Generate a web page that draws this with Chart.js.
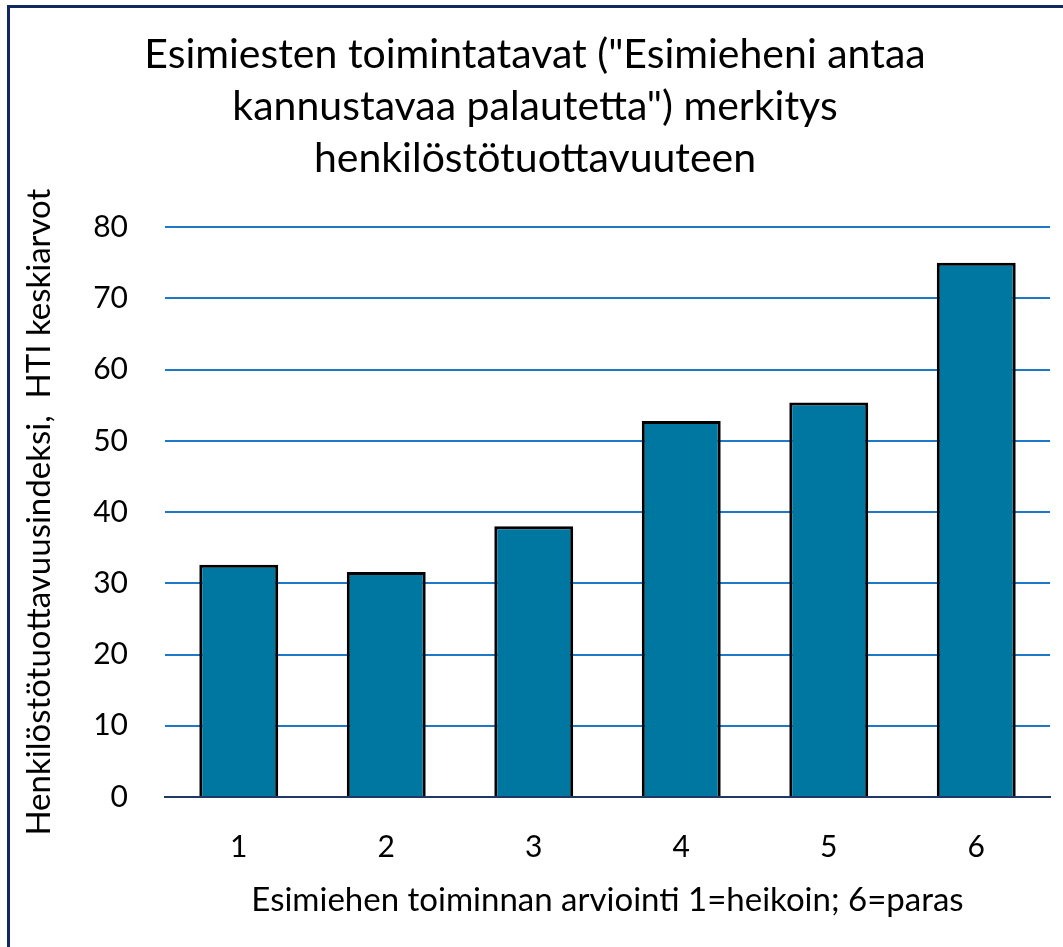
<!DOCTYPE html>
<html>
<head>
<meta charset="utf-8">
<script src="https://cdn.jsdelivr.net/npm/chart.js@4/dist/chart.umd.min.js"></script>
<style>
    html, body { margin: 0; padding: 0; background: #fff; }
    #wrap { position: relative; width: 1063px; height: 947px; }
    #frame {
        position: absolute; left: 7px; top: 5px; right: 0; bottom: 0;
        border-left: 3px solid #10295e; border-top: 3px solid #10295e;
        pointer-events: none;
    }
    canvas { position: absolute; left: 0; top: 0; }
</style>
</head>
<body>
<div id="wrap">
    <canvas id="chart" width="1063" height="947"></canvas>
    <div id="frame"></div>
</div>
<script>
// Chart data
const categories = ['1', '2', '3', '4', '5', '6'];
const htiValues = [32.6, 31.6, 38.0, 52.8, 55.4, 75.0];
const yTicks = [0, 10, 20, 30, 40, 50, 60, 70, 80];

const titleLines = [
    'Esimiesten toimintatavat ("Esimieheni antaa',
    'kannustavaa palautetta") merkitys',
    'henkilöstötuottavuuteen'
];

const fontFamily = 'Lato, "Open Sans", sans-serif';

new Chart(document.getElementById('chart'), {
    type: 'bar',
    data: {
        labels: categories,
        datasets: [{
            data: htiValues,
            backgroundColor: '#0077a0',
            borderColor: '#000000',
            borderWidth: 3,
            borderSkipped: 'bottom',
            barPercentage: 0.535,
            categoryPercentage: 1.0
        }]
    },
    options: {
        responsive: false,
        animation: false,
        layout: {
            padding: { left: 20, right: 13, top: 0, bottom: 0 }
        },
        plugins: {
            legend: { display: false },
            tooltip: { enabled: false },
            title: {
                display: true,
                text: titleLines,
                color: '#000',
                font: { family: fontFamily, size: 41, weight: 'normal', lineHeight: 1.27 },
                padding: { top: 29, bottom: 42 }
            }
        },
        scales: {
            x: {
                grid: { display: false, drawTicks: false },
                border: { display: true, color: '#1f3864', width: 2 },
                ticks: {
                    color: '#000',
                    padding: 32,
                    font: { family: fontFamily, size: 30 }
                },
                title: {
                    display: true,
                    text: 'Esimiehen toiminnan arviointi 1=heikoin; 6=paras',
                    color: '#000',
                    font: { family: fontFamily, size: 33 },
                    padding: { top: 10, bottom: 27 }
                },
                afterFit: function(scale) {
                    scale.height = 150;
                }
            },
            y: {
                min: 0,
                max: 80,
                grid: {
                    color: '#1f77c8',
                    lineWidth: 2,
                    drawTicks: false
                },
                border: { display: false },
                afterBuildTicks: function(scale) {
                    scale.ticks = yTicks.map(v => ({ value: v }));
                },
                ticks: {
                    color: '#000',
                    padding: 37,
                    font: { family: fontFamily, size: 30 }
                },
                title: {
                    display: true,
                    text: 'Henkilöstötuottavuusindeksi,  HTI keskiarvot',
                    color: '#000',
                    font: { family: fontFamily, size: 33 },
                    padding: { top: 0, bottom: 10 }
                },
                afterFit: function(scale) {
                    scale.width = 145;
                }
            }
        }
    }
});
</script>
</body>
</html>
